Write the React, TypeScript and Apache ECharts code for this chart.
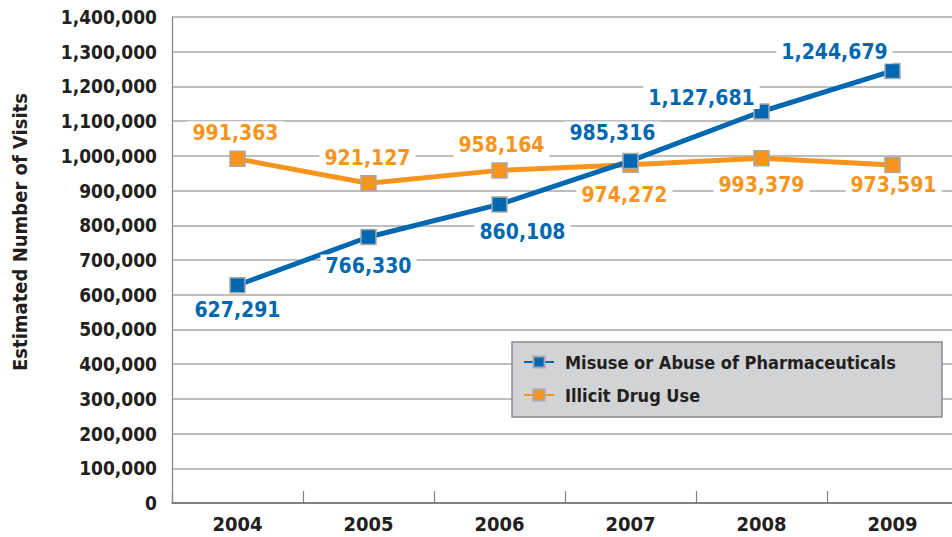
import React, { useEffect, useRef } from "react";
import * as echarts from "echarts";

const years = ["2004", "2005", "2006", "2007", "2008", "2009"];
const pharmaValues = [627291, 766330, 860108, 985316, 1127681, 1244679];
const illicitValues = [991363, 921127, 958164, 974272, 993379, 973591];
const seriesNames = ["Misuse or Abuse of Pharmaceuticals", "Illicit Drug Use"];
const yAxisTitle = "Estimated Number of Visits";

// label placement offsets (pixels, relative to the marker centre)
const pharmaLabelOffsets = [[0, 25], [0, 29], [23, 28], [-18, -28], [-60, -14], [-58, -19]];
const illicitLabelOffsets = [[-2, -26], [-1, -25], [2, -25], [-6, 30], [0, 27], [1, 20]];

const FONT = "'Liberation Sans Narrow', 'DejaVu Sans Condensed', 'Roboto Condensed', sans-serif";
const BLUE = "#0067b1";
const ORANGE = "#f7941d";

const fmt = (v: number) => v.toLocaleString("en-US");

function buildData(values: number[], offsets: number[][], color: string) {
  return values.map((v, i) => ({
    value: v,
    label: {
      show: true,
      position: "inside",
      offset: offsets[i],
      formatter: () => fmt(v),
      color,
      fontFamily: FONT,
      fontWeight: "bold",
      fontSize: 21,
      backgroundColor: "#ffffff",
      padding: [1, 5, 1, 5],
    },
  }));
}

export default function App() {
  const ref = useRef<HTMLDivElement>(null);
  useEffect(() => {
    if (!ref.current) return;
    const chart = echarts.init(ref.current, null, { renderer: "svg" });
    chart.setOption({
      animation: false,
      backgroundColor: "#ffffff",
      grid: { left: 172, top: 17, width: 786, height: 486, containLabel: false },
      xAxis: {
        type: "category",
        data: years,
        boundaryGap: true,
        axisLine: { lineStyle: { color: "#6d6e71", width: 1.5 } },
        axisTick: { show: true, inside: true, length: 12, lineStyle: { color: "#808285", width: 1.2 } },
        axisLabel: { color: "#231f20", fontFamily: FONT, fontWeight: "bold", fontSize: 20, margin: 11 },
      },
      yAxis: {
        type: "value",
        min: 0,
        max: 1400000,
        interval: 100000,
        axisLine: { show: true, lineStyle: { color: "#808285", width: 1.2 } },
        axisTick: { show: false },
        splitLine: { lineStyle: { color: "#a7a9ac", width: 1.5 } },
        axisLabel: {
          color: "#231f20",
          fontFamily: FONT,
          fontWeight: "bold",
          fontSize: 19,
          margin: 15,
          formatter: (v: number) => fmt(v),
        },
      },
      legend: {
        orient: "vertical",
        left: 523,
        top: 353,
        padding: 0,
        itemGap: 15,
        itemWidth: 30,
        itemHeight: 14,
        z: 12,
        textStyle: { color: "#231f20", fontFamily: FONT, fontWeight: "bold", fontSize: 18, padding: [0, 0, 0, 6] },
        data: seriesNames,
      },
      graphic: [
        {
          type: "rect",
          z: 10,
          shape: { x: 512, y: 342, width: 430, height: 75 },
          style: { fill: "#d1d3d4", stroke: "#8a8c8e", lineWidth: 1.5 },
        },
        {
          type: "text",
          x: 20,
          y: 232,
          rotation: Math.PI / 2,
          style: {
            text: yAxisTitle,
            fill: "#231f20",
            font: `bold 20px ${FONT}`,
            textAlign: "center",
            textVerticalAlign: "middle",
          },
        },
      ],
      series: [
        {
          name: seriesNames[1],
          type: "line",
          data: buildData(illicitValues, illicitLabelOffsets, ORANGE),
          symbol: "rect",
          symbolSize: 15,
          lineStyle: { color: ORANGE, width: 5 },
          itemStyle: { color: ORANGE, borderColor: "#a7a9ac", borderWidth: 1.5 },
          z: 3,
        },
        {
          name: seriesNames[0],
          type: "line",
          data: buildData(pharmaValues, pharmaLabelOffsets, BLUE),
          symbol: "rect",
          symbolSize: 15,
          lineStyle: { color: BLUE, width: 5 },
          itemStyle: { color: BLUE, borderColor: "#a7a9ac", borderWidth: 1.5 },
          z: 4,
        },
      ],
    });
    return () => chart.dispose();
  }, []);
  return (
    <div style={{ width: 952, height: 537, position: "absolute", left: 0, top: 0, overflow: "hidden" }}>
      <div ref={ref} style={{ width: 970, height: 537 }} />
    </div>
  );
}
